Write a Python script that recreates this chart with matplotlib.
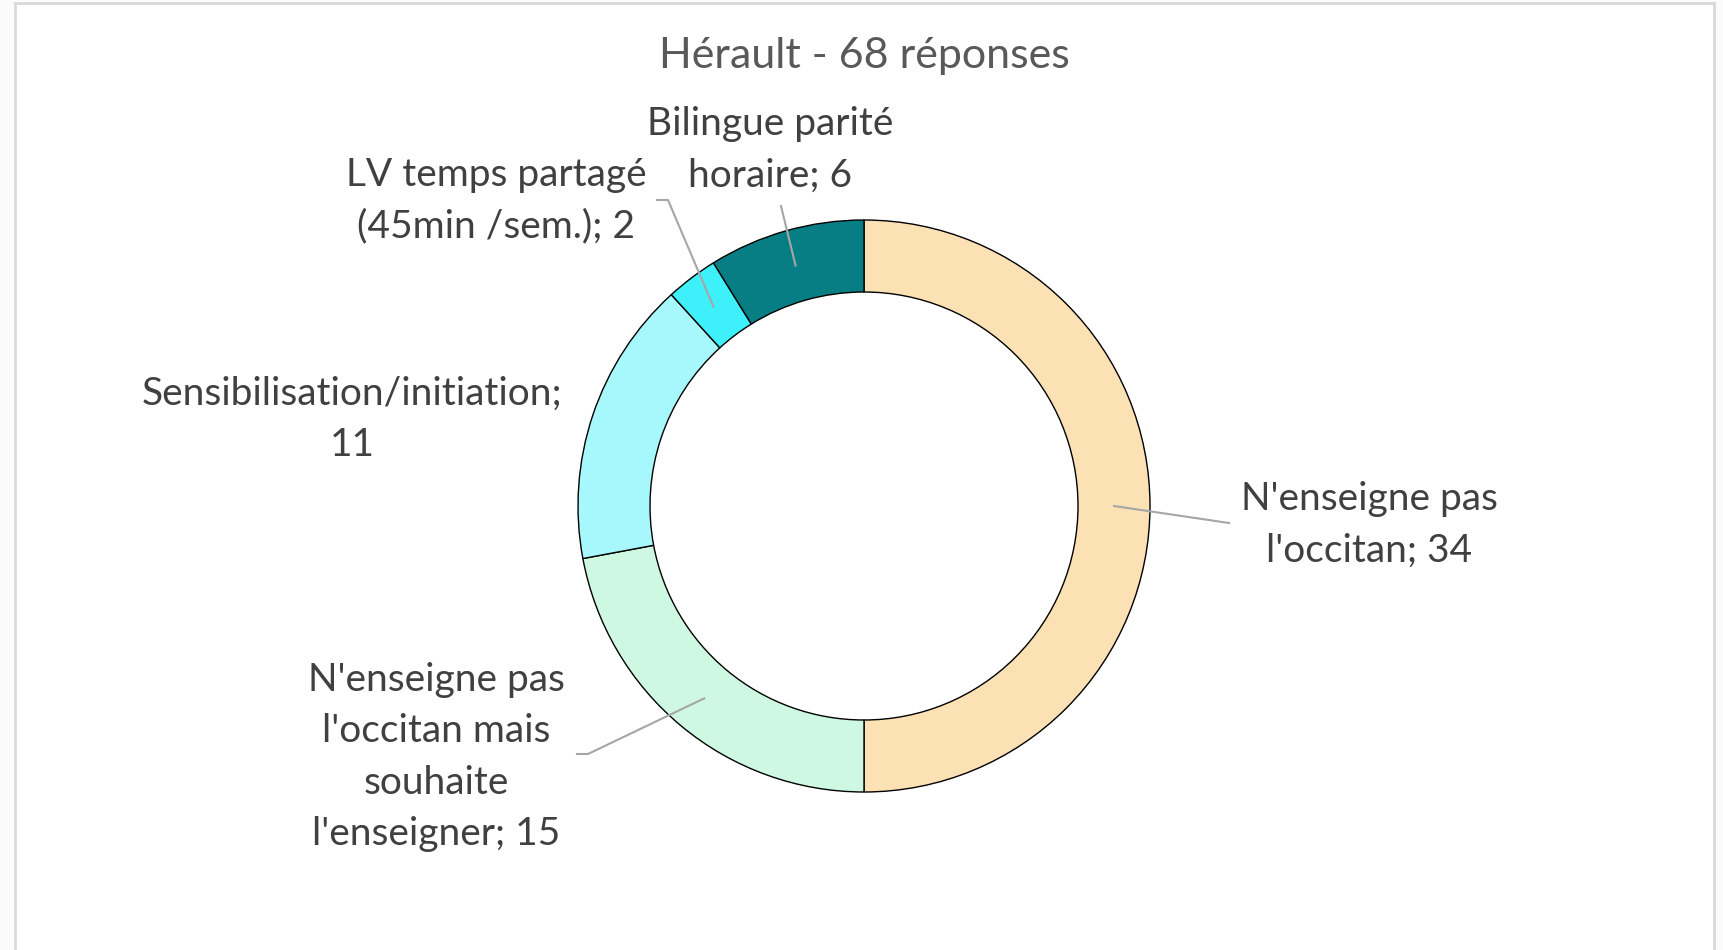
import numpy as np
import matplotlib
matplotlib.use("Agg")
from matplotlib import pyplot as plt
from matplotlib.patches import Rectangle

plt.rcParams['font.family'] = ['Lato', 'DejaVu Sans']

# data
title = "Hérault - 68 réponses"
categories = ["N'enseigne pas\nl'occitan", "N'enseigne pas\nl'occitan mais\nsouhaite\nl'enseigner",
              "Sensibilisation/initiation;\n", "LV temps partagé\n(45min /sem.)", "Bilingue parité\nhoraire"]
values = [34, 15, 11, 2, 6]
colors = ['#FCE1B4', '#CEF8E2', '#A6F8FC', '#3EF0F9', '#077E83']

W, H = 1724, 950
fig = plt.figure(figsize=(W / 100, H / 100), dpi=100, facecolor='#fbfbfb')
ax = fig.add_axes([0, 0, 1, 1])

# chart frame (pixel coords, y up)
ax.add_patch(Rectangle((15, -10), 1699, H - 3 + 10, facecolor='white', edgecolor='#d9d9d9', lw=2, zorder=0))

cx, cy = 864, H - 506
r_out, r_in = 286, 214
wedges, _ = ax.pie(values, colors=colors, startangle=90, counterclock=False, radius=r_out,
                   center=(cx, cy), frame=True,
                   wedgeprops=dict(width=r_out - r_in, edgecolor='black', linewidth=1))

ax.set_xlim(0, W)
ax.set_ylim(0, H)
ax.axis('off')

ax.text(cx, H - 56, title, ha='center', va='center', fontsize=31, color='#595959')

# label layout: block centre (px, y down), leader end, elbow end
label_pos = [(1369, 525), (436, 757), (352, 419), (496, 201), (770, 150)]
leader_end = [(1229, 523), (588, 754), None, (668, 200), (781, 206)]
elbow_end = [None, (577, 754), None, (657, 200), None]

for i, w in enumerate(wedges):
    if categories[i].endswith('\n'):
        txt = categories[i] + str(values[i])
    else:
        txt = categories[i] + '; ' + str(values[i])
    lx, ly = label_pos[i]
    ax.text(lx, H - ly, txt, ha='center', va='center', fontsize=28, color='#404040',
            linespacing=1.52, multialignment='center')
    if leader_end[i] is not None:
        mid = np.deg2rad((w.theta1 + w.theta2) / 2)
        rm = (r_out + r_in) / 2
        sx, sy = cx + rm * np.cos(mid), cy + rm * np.sin(mid)
        ex, ey = leader_end[i]
        xs, ys = [sx, ex], [sy, H - ey]
        if elbow_end[i] is not None:
            xs.append(elbow_end[i][0])
            ys.append(H - elbow_end[i][1])
        ax.plot(xs, ys, color='#a6a6a6', lw=1.5, zorder=5)

fig.savefig('out.png', dpi=100, facecolor=fig.get_facecolor())
